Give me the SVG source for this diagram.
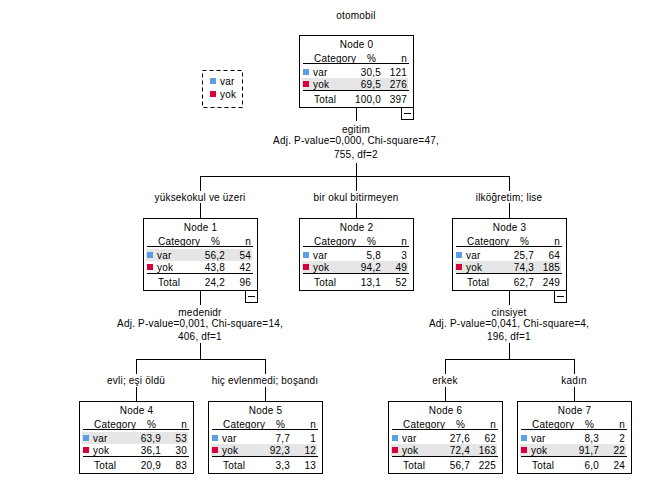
<svg xmlns="http://www.w3.org/2000/svg" width="658" height="491" viewBox="0 0 658 491">
<defs>
<style>
text{font-family:"Liberation Sans",Arial,sans-serif;font-size:10px;fill:#000;letter-spacing:0.2px}
.m{text-anchor:middle}
.e{text-anchor:end}
.box{fill:#fff;stroke:#000;stroke-width:1}
.ln{stroke:#000;stroke-width:1;fill:none}
.hl{fill:#e6e6e6}
.var{fill:#5b9ee6}
.yok{fill:#d8003a}
</style>
<g id="minus">
<rect class="box" x="102.5" y="72.5" width="12" height="12"/>
<line class="ln" x1="105" y1="78.5" x2="112" y2="78.5"/>
</g>
</defs>
<rect width="658" height="491" fill="#fff"/>
<text class="m" x="356" y="18.5">otomobil</text>
<g id="legend">
<rect x="202.5" y="70.5" width="40" height="37" fill="none" stroke="#000" stroke-dasharray="4,3"/>
<rect class="var" x="210" y="78" width="6" height="6"/>
<text x="220" y="85">var</text>
<rect class="yok" x="210" y="91" width="6" height="6"/>
<text x="220" y="98">yok</text>
</g>
<g id="connectors">
<path class="ln" d="M356.5 107V121M356.5 163V176.5M200.5 176.5H509.5M200.5 176V191M200.5 203V218M356.5 176V191M356.5 203V218M509.5 176V191M509.5 203V218"/>
<path class="ln" d="M200.5 290V305M200.5 343V359.5M136.5 359.5H265.5M136.5 359V374M136.5 387V401M265.5 359V374M265.5 387V401"/>
<path class="ln" d="M509.5 290V305M509.5 343V359.5M445.5 359.5H574.5M445.5 359V374M445.5 387V401M574.5 359V374M574.5 387V401"/>
<text class="m" x="356" y="132.5">egitim</text>
<text class="m" x="356" y="143.5">Adj. P-value=0,000, Chi-square=47,</text>
<text class="m" x="356" y="157.5">755, df=2</text>
<text class="m" x="200" y="201">yüksekokul ve üzeri</text>
<text class="m" x="356" y="201">bir okul bitirmeyen</text>
<text class="m" x="509" y="201">ilköğretim; lise</text>
<text class="m" x="200" y="315.5">medenidr</text>
<text class="m" x="200" y="326.5">Adj. P-value=0,001, Chi-square=14,</text>
<text class="m" x="200" y="339.5">406, df=1</text>
<text class="m" x="509" y="315.5">cinsiyet</text>
<text class="m" x="509" y="326.5">Adj. P-value=0,041, Chi-square=4,</text>
<text class="m" x="509" y="339.5">196, df=1</text>
<text class="m" x="136" y="384">evli; eşi öldü</text>
<text class="m" x="265" y="384">hiç evlenmedi; boşandı</text>
<text class="m" x="445" y="384">erkek</text>
<text class="m" x="574" y="384">kadın</text>
</g>
<g id="node0" transform="translate(299,35)">
<rect class="box" x="0.5" y="0.5" width="114" height="72"/>
<rect class="hl" x="3" y="43" width="106" height="12"/>
<text class="m" x="57.5" y="13">Node 0</text>
<text x="15" y="26.5">Category</text><text class="e" x="77" y="26.5">%</text><text class="e" x="108" y="26.5">n</text>
<line class="ln" x1="4" y1="28.5" x2="110" y2="28.5"/>
<rect class="var" x="4" y="34" width="6" height="6"/><text x="14" y="40.5">var</text><text class="e" x="82" y="40.5">30,5</text><text class="e" x="108" y="40.5">121</text>
<rect class="yok" x="4" y="46" width="6" height="6"/><text x="14" y="53">yok</text><text class="e" x="82" y="53">69,5</text><text class="e" x="108" y="53">276</text>
<line class="ln" x1="4" y1="55.5" x2="110" y2="55.5"/>
<text x="15" y="67.5">Total</text><text class="e" x="82" y="67.5">100,0</text><text class="e" x="108" y="67.5">397</text>
<use href="#minus"/>
</g>
<g id="node1" transform="translate(143,218)">
<rect class="box" x="0.5" y="0.5" width="114" height="72"/>
<rect class="hl" x="3" y="31" width="106" height="12"/>
<text class="m" x="57.5" y="13">Node 1</text>
<text x="15" y="26.5">Category</text><text class="e" x="77" y="26.5">%</text><text class="e" x="108" y="26.5">n</text>
<line class="ln" x1="4" y1="28.5" x2="110" y2="28.5"/>
<rect class="var" x="4" y="34" width="6" height="6"/><text x="14" y="40.5">var</text><text class="e" x="82" y="40.5">56,2</text><text class="e" x="108" y="40.5">54</text>
<rect class="yok" x="4" y="46" width="6" height="6"/><text x="14" y="53">yok</text><text class="e" x="82" y="53">43,8</text><text class="e" x="108" y="53">42</text>
<line class="ln" x1="4" y1="55.5" x2="110" y2="55.5"/>
<text x="15" y="67.5">Total</text><text class="e" x="82" y="67.5">24,2</text><text class="e" x="108" y="67.5">96</text>
<use href="#minus"/>
</g>
<g id="node2" transform="translate(299,218)">
<rect class="box" x="0.5" y="0.5" width="114" height="72"/>
<rect class="hl" x="3" y="43" width="106" height="12"/>
<text class="m" x="57.5" y="13">Node 2</text>
<text x="15" y="26.5">Category</text><text class="e" x="77" y="26.5">%</text><text class="e" x="108" y="26.5">n</text>
<line class="ln" x1="4" y1="28.5" x2="110" y2="28.5"/>
<rect class="var" x="4" y="34" width="6" height="6"/><text x="14" y="40.5">var</text><text class="e" x="82" y="40.5">5,8</text><text class="e" x="108" y="40.5">3</text>
<rect class="yok" x="4" y="46" width="6" height="6"/><text x="14" y="53">yok</text><text class="e" x="82" y="53">94,2</text><text class="e" x="108" y="53">49</text>
<line class="ln" x1="4" y1="55.5" x2="110" y2="55.5"/>
<text x="15" y="67.5">Total</text><text class="e" x="82" y="67.5">13,1</text><text class="e" x="108" y="67.5">52</text>
</g>
<g id="node3" transform="translate(452,218)">
<rect class="box" x="0.5" y="0.5" width="114" height="72"/>
<rect class="hl" x="3" y="43" width="106" height="12"/>
<text class="m" x="57.5" y="13">Node 3</text>
<text x="15" y="26.5">Category</text><text class="e" x="77" y="26.5">%</text><text class="e" x="108" y="26.5">n</text>
<line class="ln" x1="4" y1="28.5" x2="110" y2="28.5"/>
<rect class="var" x="4" y="34" width="6" height="6"/><text x="14" y="40.5">var</text><text class="e" x="82" y="40.5">25,7</text><text class="e" x="108" y="40.5">64</text>
<rect class="yok" x="4" y="46" width="6" height="6"/><text x="14" y="53">yok</text><text class="e" x="82" y="53">74,3</text><text class="e" x="108" y="53">185</text>
<line class="ln" x1="4" y1="55.5" x2="110" y2="55.5"/>
<text x="15" y="67.5">Total</text><text class="e" x="82" y="67.5">62,7</text><text class="e" x="108" y="67.5">249</text>
<use href="#minus"/>
</g>
<g id="node4" transform="translate(79,401)">
<rect class="box" x="0.5" y="0.5" width="114" height="72"/>
<rect class="hl" x="3" y="31" width="106" height="12"/>
<text class="m" x="57.5" y="13">Node 4</text>
<text x="15" y="26.5">Category</text><text class="e" x="77" y="26.5">%</text><text class="e" x="108" y="26.5">n</text>
<line class="ln" x1="4" y1="28.5" x2="110" y2="28.5"/>
<rect class="var" x="4" y="34" width="6" height="6"/><text x="14" y="40.5">var</text><text class="e" x="82" y="40.5">63,9</text><text class="e" x="108" y="40.5">53</text>
<rect class="yok" x="4" y="46" width="6" height="6"/><text x="14" y="53">yok</text><text class="e" x="82" y="53">36,1</text><text class="e" x="108" y="53">30</text>
<line class="ln" x1="4" y1="55.5" x2="110" y2="55.5"/>
<text x="15" y="67.5">Total</text><text class="e" x="82" y="67.5">20,9</text><text class="e" x="108" y="67.5">83</text>
</g>
<g id="node5" transform="translate(208,401)">
<rect class="box" x="0.5" y="0.5" width="114" height="72"/>
<rect class="hl" x="3" y="43" width="106" height="12"/>
<text class="m" x="57.5" y="13">Node 5</text>
<text x="15" y="26.5">Category</text><text class="e" x="77" y="26.5">%</text><text class="e" x="108" y="26.5">n</text>
<line class="ln" x1="4" y1="28.5" x2="110" y2="28.5"/>
<rect class="var" x="4" y="34" width="6" height="6"/><text x="14" y="40.5">var</text><text class="e" x="82" y="40.5">7,7</text><text class="e" x="108" y="40.5">1</text>
<rect class="yok" x="4" y="46" width="6" height="6"/><text x="14" y="53">yok</text><text class="e" x="82" y="53">92,3</text><text class="e" x="108" y="53">12</text>
<line class="ln" x1="4" y1="55.5" x2="110" y2="55.5"/>
<text x="15" y="67.5">Total</text><text class="e" x="82" y="67.5">3,3</text><text class="e" x="108" y="67.5">13</text>
</g>
<g id="node6" transform="translate(388,401)">
<rect class="box" x="0.5" y="0.5" width="114" height="72"/>
<rect class="hl" x="3" y="43" width="106" height="12"/>
<text class="m" x="57.5" y="13">Node 6</text>
<text x="15" y="26.5">Category</text><text class="e" x="77" y="26.5">%</text><text class="e" x="108" y="26.5">n</text>
<line class="ln" x1="4" y1="28.5" x2="110" y2="28.5"/>
<rect class="var" x="4" y="34" width="6" height="6"/><text x="14" y="40.5">var</text><text class="e" x="82" y="40.5">27,6</text><text class="e" x="108" y="40.5">62</text>
<rect class="yok" x="4" y="46" width="6" height="6"/><text x="14" y="53">yok</text><text class="e" x="82" y="53">72,4</text><text class="e" x="108" y="53">163</text>
<line class="ln" x1="4" y1="55.5" x2="110" y2="55.5"/>
<text x="15" y="67.5">Total</text><text class="e" x="82" y="67.5">56,7</text><text class="e" x="108" y="67.5">225</text>
</g>
<g id="node7" transform="translate(517,401)">
<rect class="box" x="0.5" y="0.5" width="114" height="72"/>
<rect class="hl" x="3" y="43" width="106" height="12"/>
<text class="m" x="57.5" y="13">Node 7</text>
<text x="15" y="26.5">Category</text><text class="e" x="77" y="26.5">%</text><text class="e" x="108" y="26.5">n</text>
<line class="ln" x1="4" y1="28.5" x2="110" y2="28.5"/>
<rect class="var" x="4" y="34" width="6" height="6"/><text x="14" y="40.5">var</text><text class="e" x="82" y="40.5">8,3</text><text class="e" x="108" y="40.5">2</text>
<rect class="yok" x="4" y="46" width="6" height="6"/><text x="14" y="53">yok</text><text class="e" x="82" y="53">91,7</text><text class="e" x="108" y="53">22</text>
<line class="ln" x1="4" y1="55.5" x2="110" y2="55.5"/>
<text x="15" y="67.5">Total</text><text class="e" x="82" y="67.5">6,0</text><text class="e" x="108" y="67.5">24</text>
</g>
</svg>
